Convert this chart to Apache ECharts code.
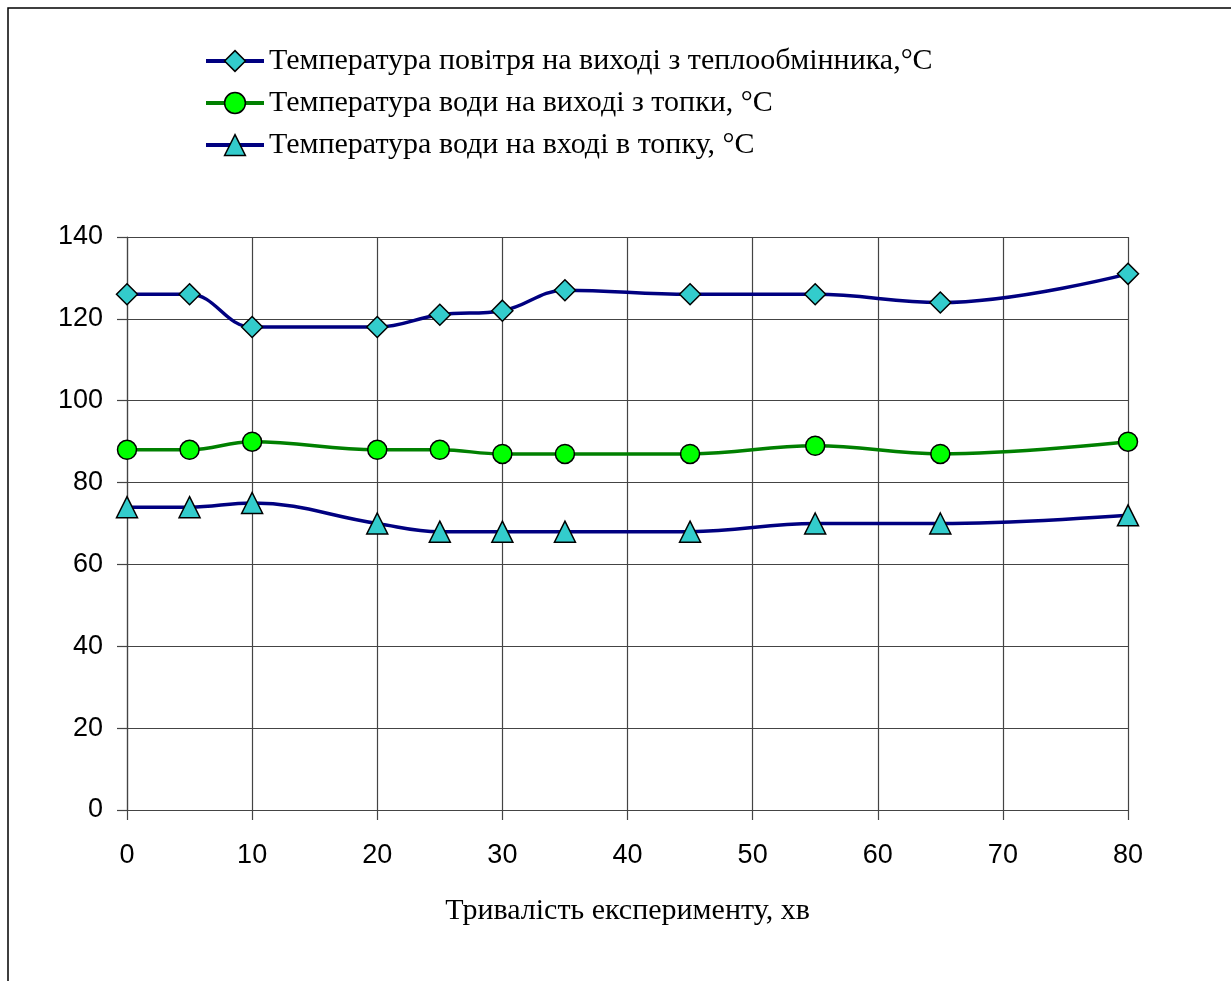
<!DOCTYPE html>
<html>
<head>
<meta charset="utf-8">
<script src="https://cdn.jsdelivr.net/npm/echarts@6/dist/echarts.min.js"></script>
<style>
html, body { margin: 0; padding: 0; background: #fff; }
#ct1 { width: 1231px; height: 981px; }
</style>
</head>
<body>
<div id="ct1"></div>
<script>
// час, хв
var xData = [0, 5, 10, 20, 25, 30, 35, 45, 55, 65, 80];
var airOut = [126, 126, 118, 118, 121, 122, 127, 126, 126, 124, 131];
var waterOut = [88, 88, 90, 88, 88, 87, 87, 87, 89, 87, 90];
var waterIn = [74, 74, 75, 70, 68, 68, 68, 68, 70, 70, 72];
var names = [
    'Температура повітря на виході з теплообмінника,°C',
    'Температура води на виході з топки, °C',
    'Температура води на вході в топку, °C'
];

function pairs(ys) {
    var out = [];
    for (var i = 0; i < xData.length; i++) {
        out.push([xData[i], ys[i]]);
    }
    return out;
}

function mkSeries(name, ys, lineColor, symbol, fill, size) {
    return {
        name: name,
        type: 'line',
        data: pairs(ys),
        smooth: 0.4,
        symbol: symbol,
        symbolSize: size,
        lineStyle: {color: lineColor, width: 3.5},
        itemStyle: {color: fill, borderColor: '#000', borderWidth: 1.5},
        z: 3
    };
}

var myChart1 = echarts.init(document.getElementById('ct1'));
var option1 = {
    backgroundColor: '#fff',
    animation: false,
    graphic: [{
        type: 'rect',
        shape: {x: 8, y: 8, width: 1260, height: 1000},
        style: {fill: 'none', stroke: '#000', lineWidth: 1.5},
        silent: true
    }],
    legend: {
        orient: 'vertical',
        left: 204,
        top: 46,
        padding: 0,
        itemWidth: 58,
        itemHeight: 26,
        itemGap: 12,
        lineStyle: {width: 4},
        itemStyle: {borderColor: '#000', borderWidth: 1.5},
        textStyle: {fontFamily: 'Liberation Serif', fontSize: 30, color: '#000'},
        data: names
    },
    grid: {left: 127, right: 103, top: 237, bottom: 171},
    xAxis: {
        type: 'value',
        min: 0,
        max: 80,
        interval: 10,
        name: 'Тривалість експерименту, хв',
        nameLocation: 'middle',
        nameGap: 86,
        nameTextStyle: {fontFamily: 'Liberation Serif', fontSize: 30, color: '#000'},
        axisLine: {lineStyle: {color: '#444', width: 1.2}},
        axisTick: {show: true, length: 10, lineStyle: {color: '#444', width: 1.2}},
        axisLabel: {fontFamily: 'Liberation Sans', fontSize: 27, color: '#000', margin: 32},
        splitLine: {show: true, lineStyle: {color: '#444', width: 1.2}}
    },
    yAxis: {
        type: 'value',
        min: 0,
        max: 140,
        interval: 20,
        axisLine: {show: true, lineStyle: {color: '#444', width: 1.2}},
        axisTick: {show: true, length: 10, lineStyle: {color: '#444', width: 1.2}},
        axisLabel: {fontFamily: 'Liberation Sans', fontSize: 27, color: '#000', margin: 24},
        splitLine: {show: true, lineStyle: {color: '#444', width: 1.2}}
    },
    series: [
        mkSeries(names[0], airOut, '#000080', 'diamond', '#33CCCC', 21),
        mkSeries(names[1], waterOut, '#008000', 'circle', '#00FF00', 19),
        mkSeries(names[2], waterIn, '#000080', 'triangle', '#33CCCC', 21)
    ]
};
myChart1.setOption(option1, true);
window.onresize = myChart1.resize;
</script>
</body>
</html>
